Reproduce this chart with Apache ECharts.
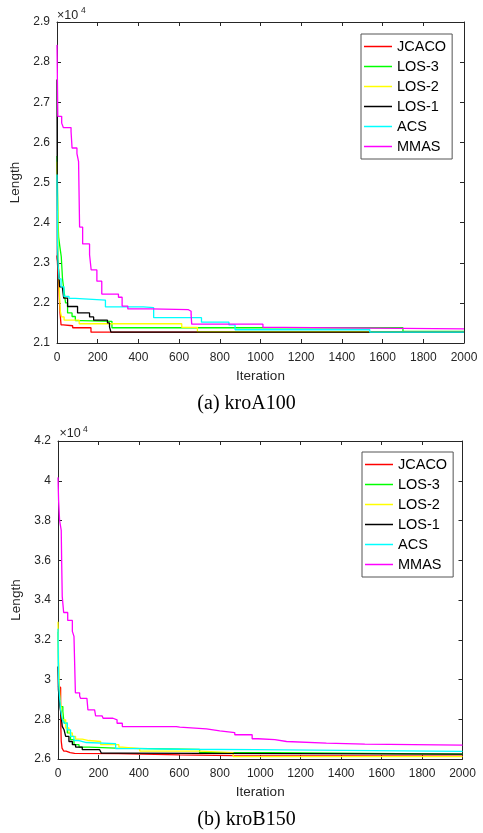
<!DOCTYPE html>
<html><head><meta charset="utf-8">
<script src="https://cdn.jsdelivr.net/npm/echarts@6/dist/echarts.min.js"></script>
<style>html,body{margin:0;padding:0;background:#fff}#c{width:483px;height:833px}</style>
</head><body><div id="c"></div>
<script>
// ---- shared ----
const seriesNames = ['JCACO', 'LOS-3', 'LOS-2', 'LOS-1', 'ACS', 'MMAS'];
const seriesColors = ['#ff0000', '#00ff00', '#ffff00', '#000000', '#00ffff', '#ff00ff'];
const captions = ['(a) kroA100', '(b) kroB150'];

// ---- (a) kroA100 : [iteration, length] ----
const a_xRange = [0, 2000, 200];
const a_yRange = [21000, 29000, 1000];
const a_JCACO = [[0,23180],[8,22500],[14,21800],[20,21450],[30,21430],[77,21380],[167,21270],[2000,21270]];
const a_LOS3 = [[0,25660],[5,24000],[8,23640],[14,23400],[21,23150],[27,22600],[33,22360],[42,22000],[52,21750],[74,21660],[90,21560],[123,21540],[270,21380],[1700,21290],[2000,21290]];
const a_LOS2 = [[0,25520],[5,23500],[10,22500],[16,21800],[22,21650],[35,21570],[109,21480],[613,21390],[690,21280],[2000,21280]];
const a_LOS1 = [[0,27570],[2,23100],[7,22850],[13,22400],[26,22360],[33,22120],[52,21910],[101,21750],[160,21650],[180,21570],[248,21500],[258,21400],[265,21270],[2000,21270]];
const a_ACS = [[0,25200],[3,23500],[5,23000],[10,22600],[20,22400],[34,22160],[59,22110],[90,22070],[238,21900],[425,21880],[475,21630],[710,21520],[845,21450],[875,21330],[1537,21270],[2000,21270]];
const a_MMAS = [[0,28430],[4,26650],[23,26480],[31,26370],[69,26270],[74,25860],[98,25720],[106,25520],[111,23890],[126,23470],[160,23200],[168,22820],[196,22540],[220,22220],[302,22140],[320,21920],[348,21850],[460,21830],[646,21790],[659,21700],[662,21470],[1012,21390],[1112,21350],[2000,21350]];

// ---- (b) kroB150 ----
const b_xRange = [0, 2000, 200];
const b_yRange = [26000, 42000, 2000];
const b_JCACO = [[0,29650],[8,29600],[13,28000],[16,26900],[20,26550],[28,26400],[40,26320],[60,26280],[82,26270],[297,26210],[602,26170],[866,26140],[2000,26140]];
const b_LOS3 = [[0,32400],[3,30000],[8,28980],[13,28640],[24,28390],[30,27810],[46,27310],[62,26970],[79,26720],[104,26600],[153,26550],[285,26480],[700,26320],[1050,26250],[2000,26250]];
const b_LOS2 = [[0,32900],[3,31000],[6,29800],[10,29000],[13,28810],[21,27970],[38,27560],[54,27310],[71,27140],[87,27000],[120,26930],[153,26880],[211,26720],[301,26600],[318,26520],[404,26400],[700,26320],[866,26120],[2000,26120]];
const b_LOS1 = [[0,30650],[2,29500],[5,29130],[10,28600],[13,28390],[21,27640],[30,27470],[38,27140],[54,26880],[71,26720],[87,26600],[120,26470],[206,26380],[214,26300],[297,26250],[2000,26250]];
const b_ACS = [[0,32550],[3,30000],[5,29480],[13,28480],[21,28000],[30,27810],[46,27470],[62,27140],[79,26930],[104,26830],[140,26770],[285,26520],[404,26490],[602,26470],[975,26380],[2000,26380]];
const b_MMAS = [[0,40170],[3,39000],[8,38000],[16,37500],[18,36000],[21,34170],[28,33370],[48,32970],[71,32420],[79,32170],[86,29330],[107,29170],[112,29050],[143,28970],[148,28470],[181,28380],[186,28170],[218,28130],[223,28050],[272,27970],[292,27800],[318,27630],[585,27600],[602,27520],[734,27420],[800,27330],[874,27220],[960,27020],[989,26970],[1072,26880],[1130,26800],[1327,26750],[1517,26700],[2000,26700]];

const aData = [a_JCACO, a_LOS3, a_LOS2, a_LOS1, a_ACS, a_MMAS];
const bData = [b_JCACO, b_LOS3, b_LOS2, b_LOS1, b_ACS, b_MMAS];

const FONT = "'Liberation Sans', Arial, sans-serif";
const SERIF = "'Liberation Serif', 'Times New Roman', serif";
const AXC = '#262626';

function xAxes(gi, r, pos) {
  const show = pos === 'bottom';
  return {
    type: 'value', gridIndex: gi, position: pos, min: r[0], max: r[1], interval: r[2],
    name: show ? 'Iteration' : '', nameLocation: 'middle', nameGap: 26,
    nameTextStyle: {color: AXC, fontSize: 13.5, fontFamily: FONT},
    axisLine: {show: true, onZero: false, lineStyle: {color: AXC, width: 1}},
    axisTick: {show: true, inside: true, length: 4, lineStyle: {color: AXC}},
    axisLabel: {show: show, margin: 9, color: AXC, fontSize: 12, fontFamily: FONT,
      formatter: v => String(v)},
    splitLine: {show: false}
  };
}
function yAxes(gi, r, pos) {
  const show = pos === 'left';
  return {
    type: 'value', gridIndex: gi, position: pos, min: r[0], max: r[1], interval: r[2],
    name: show ? 'Length' : '', nameLocation: 'middle', nameGap: 25,
    nameTextStyle: {color: AXC, fontSize: 13.5, fontFamily: FONT},
    axisLine: {show: true, onZero: false, lineStyle: {color: AXC, width: 1}},
    axisTick: {show: true, inside: true, length: 4, lineStyle: {color: AXC}},
    axisLabel: {show: show, margin: 7, color: AXC, fontSize: 12, fontFamily: FONT,
      formatter: v => String(parseFloat((v / 10000).toFixed(3)))},
    splitLine: {show: false}
  };
}
function legend(left, top) {
  return {
    orient: 'vertical', left: left, top: top, data: seriesNames, selectedMode: false,
    icon: 'rect', itemWidth: 28, itemHeight: 1.5, itemGap: 3, padding: [4, 6, 4, 3],
    backgroundColor: '#fff', borderColor: '#555', borderWidth: 1, borderRadius: 0,
    textStyle: {color: '#000', fontSize: 14.5, lineHeight: 17, fontFamily: FONT}
  };
}
const series = [];
[aData, bData].forEach((set, gi) => {
  set.forEach((d, i) => {
    series.push({
      type: 'line', name: seriesNames[i], xAxisIndex: gi * 2, yAxisIndex: gi * 2,
      data: d, step: 'end', symbol: 'none', showSymbol: false, animation: false,
      color: seriesColors[i], itemStyle: {color: seriesColors[i]},
      lineStyle: {color: seriesColors[i], width: 1.3}
    });
  });
});

const option = {
  backgroundColor: '#fff',
  animation: false,
  grid: [
    {left: 57, top: 22, width: 407, height: 321},
    {left: 58, top: 441, width: 404.5, height: 318}
  ],
  xAxis: [xAxes(0, a_xRange, 'bottom'), xAxes(0, a_xRange, 'top'), xAxes(1, b_xRange, 'bottom'), xAxes(1, b_xRange, 'top')],
  yAxis: [yAxes(0, a_yRange, 'left'), yAxes(0, a_yRange, 'right'), yAxes(1, b_yRange, 'left'), yAxes(1, b_yRange, 'right')],
  legend: [legend(361, 34), legend(362, 452)],
  series: series,
  graphic: [
    {type: 'text', x: 57, y: 15.5, style: {text: '×10', fontSize: 12.5, fontFamily: FONT, fill: AXC, verticalAlign: 'middle'}},
    {type: 'text', x: 81, y: 10.3, style: {text: '4', fontSize: 8.5, fontFamily: FONT, fill: AXC, verticalAlign: 'middle'}},
    {type: 'text', x: 59.5, y: 433.7, style: {text: '×10', fontSize: 12.5, fontFamily: FONT, fill: AXC, verticalAlign: 'middle'}},
    {type: 'text', x: 83, y: 430, style: {text: '4', fontSize: 8.5, fontFamily: FONT, fill: AXC, verticalAlign: 'middle'}},
    {type: 'text', x: 246.5, y: 404, style: {text: captions[0], fontSize: 20, fontFamily: SERIF, fill: '#000', align: 'center', verticalAlign: 'middle'}},
    {type: 'text', x: 246.5, y: 820, style: {text: captions[1], fontSize: 20, fontFamily: SERIF, fill: '#000', align: 'center', verticalAlign: 'middle'}}
  ]
};
const chart = echarts.init(document.getElementById('c'), null, {renderer: 'canvas'});
chart.setOption(option);
</script></body></html>
